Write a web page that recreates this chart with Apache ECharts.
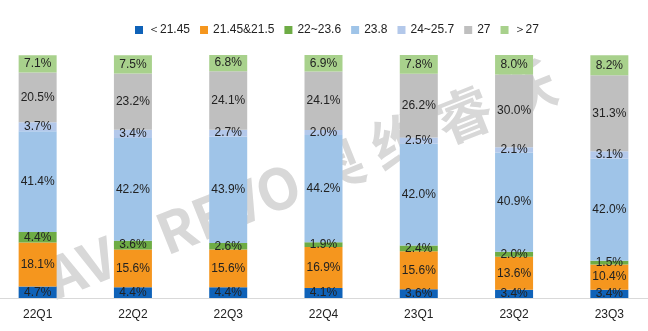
<!DOCTYPE html>
<html>
<head>
<meta charset="utf-8">
<script src="https://cdn.jsdelivr.net/npm/echarts@6/dist/echarts.min.js"></script>
<style>
  html, body { margin: 0; padding: 0; background: #fff; }
  #chart { width: 648px; height: 331px; }
</style>
</head>
<body>
<div id="chart"></div>
<script>
// Quarterly share by size segment (%)
const categories = ['22Q1', '22Q2', '22Q3', '22Q4', '23Q1', '23Q2', '23Q3'];
const seriesNames = ['＜21.45', '21.45&21.5', '22~23.6', '23.8', '24~25.7', '27', '＞27'];
const seriesColors = ['#0f62b8', '#f5961e', '#6eac45', '#9fc4e8', '#b3c8ea', '#bfbfbf', '#a8d18c'];

const below2145 = [4.7, 4.4, 4.4, 4.1, 3.6, 3.4, 3.4];
const s2145 = [18.1, 15.6, 15.6, 16.9, 15.6, 13.6, 10.4];
const s22to236 = [4.4, 3.6, 2.6, 1.9, 2.4, 2.0, 1.5];
const s238 = [41.4, 42.2, 43.9, 44.2, 42.0, 40.9, 42.0];
const s24to257 = [3.7, 3.4, 2.7, 2.0, 2.5, 2.1, 3.1];
const s27 = [20.5, 23.2, 24.1, 24.1, 26.2, 30.0, 31.3];
const above27 = [7.1, 7.5, 6.8, 6.9, 7.8, 8.0, 8.2];

const seriesValues = [below2145, s2145, s22to236, s238, s24to257, s27, above27];

// legend text box widths, one per entry
const legendTextWidths = [47, 72, 44, 23, 50, 15, 24];

const labelFont = '"Liberation Sans", Arial, sans-serif';

const legendRich = {};
legendTextWidths.forEach((w, i) => {
  legendRich['t' + i] = { width: w, fontFamily: labelFont, fontSize: 12, color: '#222' };
});

const chart = echarts.init(document.getElementById('chart'), null, { renderer: 'canvas' });

chart.setOption({
  animation: false,
  backgroundColor: '#ffffff',
  legend: {
    top: 19,
    left: 130,
    itemWidth: 8,
    itemHeight: 8,
    itemGap: 10,
    icon: 'rect',
    formatter: name => '{t' + seriesNames.indexOf(name) + '|' + name + '}',
    textStyle: { fontFamily: labelFont, fontSize: 12, color: '#222', rich: legendRich },
    data: seriesNames
  },
  // brand watermark behind the bars
  graphic: [{
    type: 'text',
    z: 0,
    x: 49,
    y: 280,
    rotation: 0.38,
    style: {
      text: 'AVC REVO 奥 维 睿 沃',
      fill: '#d8d8d8',
      font: 'bold 56px "Noto Sans CJK SC", sans-serif',
      textVerticalAlign: 'middle'
    }
  }],
  grid: { left: -10, right: -9, top: 55, bottom: 33, outerBoundsMode: 'none', containLabel: false },
  xAxis: {
    type: 'category',
    data: categories,
    axisLine: { lineStyle: { color: '#d9d9d9', width: 1 } },
    axisTick: { show: false },
    axisLabel: { fontFamily: labelFont, fontSize: 12, color: '#222', margin: 11 }
  },
  yAxis: {
    type: 'value',
    min: 0,
    max: 100,
    show: false,
    splitLine: { show: false }
  },
  series: seriesNames.map((name, i) => ({
    name: name,
    type: 'bar',
    stack: 'share',
    z: 3,
    barWidth: 38,
    itemStyle: { color: seriesColors[i] },
    label: {
      show: true,
      position: 'inside',
      color: '#222',
      fontFamily: labelFont,
      fontSize: 12,
      formatter: p => p.value.toFixed(1) + '%'
    },
    data: seriesValues[i]
  }))
});
</script>
</body>
</html>
